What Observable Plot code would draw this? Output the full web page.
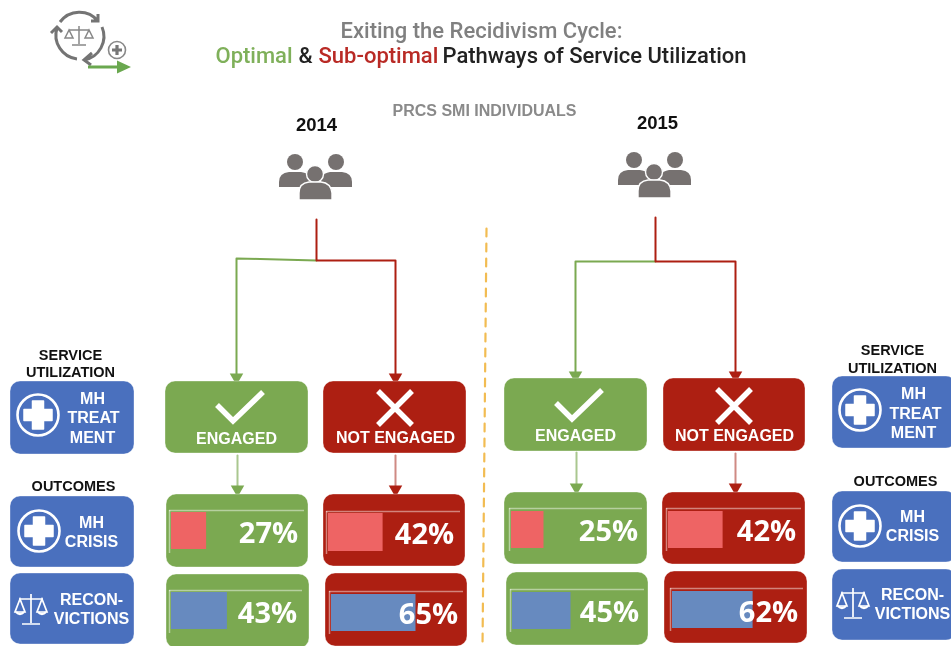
<!DOCTYPE html>
<html>
<head>
<meta charset="utf-8">
<script src="https://cdn.jsdelivr.net/npm/d3@7"></script>
<script src="https://cdn.jsdelivr.net/npm/@observablehq/plot@0.6"></script>
<style>
html,body{margin:0;padding:0;background:#fff}
svg{display:block;filter:blur(.7px)}
</style>
</head>
<body>
<div id="chart"></div>
<script>
// ---- values ----
const years = ["2014", "2015"];
const groups = ["ENGAGED", "NOT ENGAGED"];
const mhCrisis = [27, 42, 25, 42];        // 2014 E, 2014 N, 2015 E, 2015 N
const reconvictions = [43, 65, 45, 62];   // 2014 E, 2014 N, 2015 E, 2015 N

// ---- layout (page pixels) ----
const PX_PER_PERCENT = 1.3;
const px = v => v / PX_PER_PERCENT;       // x scale is in percentage points
const GREEN = "#7ba951", RED = "#ad1f12", BLUE = "#4a70be", GREY = "#808080";
const barRed = "#ee6464", barBlue = "#678abf";

const colFill = [GREEN, RED, GREEN, RED];
const statusBoxes = [
  {x1:165,x2:308,y1:381,y2:453},{x1:323,x2:466,y1:381,y2:453},
  {x1:504,x2:647,y1:378,y2:451},{x1:663,x2:805,y1:378,y2:451}
].map((d,i)=>({...d,fill:colFill[i]}));
const crisisBoxes = [
  {x1:166,x2:308,y1:494,y2:567,base:171,by1:512,by2:549,ax:169,ay:510,ax2:304,tx:268,ty:533},
  {x1:323,x2:465,y1:494,y2:566,base:328,by1:513,by2:551,ax:326,ay:511,ax2:460,tx:424,ty:534},
  {x1:504,x2:647,y1:492,y2:564,base:511,by1:511,by2:548,ax:509,ay:508,ax2:642,tx:608,ty:531},
  {x1:662,x2:805,y1:492,y2:564,base:668,by1:511,by2:548,ax:666,ay:508,ax2:801,tx:766,ty:531}
].map((d,i)=>({...d,fill:colFill[i],value:mhCrisis[i],bar:barRed}));
const reconBoxes = [
  {x1:166,x2:309,y1:574,y2:648,base:171,by1:592,by2:629,ax:169,ay:590,ax2:302,tx:267,ty:613},
  {x1:325,x2:467,y1:573,y2:646,base:331,by1:594,by2:631,ax:329,ay:591,ax2:463,tx:428,ty:614},
  {x1:506,x2:648,y1:572,y2:645,base:512,by1:592,by2:629,ax:510,ay:589,ax2:644,tx:609,ty:612},
  {x1:664,x2:807,y1:571,y2:643,base:672,by1:591,by2:628,ax:670,ay:588,ax2:803,tx:768,ty:612}
].map((d,i)=>({...d,fill:colFill[i],value:reconvictions[i],bar:barBlue}));
const valueBoxes = [...crisisBoxes, ...reconBoxes];

const blueBoxes = [
  {x1:10,x2:134,y1:381,y2:454},{x1:10,x2:134,y1:496,y2:567},{x1:10,x2:134,y1:573,y2:644},
  {x1:832,x2:956,y1:376,y2:448},{x1:832,x2:956,y1:491,y2:562},{x1:832,x2:956,y1:569,y2:640}
];

const sideHeads = [
  ["SERVICE",70,355],["UTILIZATION",70,372],["OUTCOMES",73,486],
  ["SERVICE",892,350],["UTILIZATION",892,368],["OUTCOMES",895,481]
].map(([t,x,y])=>({t,x,y}));
const blueLabels = [
  ["MH",92,398],["TREAT",93,417],["MENT",92,437],["MH",91,522],["CRISIS",91,541],
  ["RECON-",91,599],["VICTIONS",91,618],
  ["MH",913,393],["TREAT",915,413],["MENT",913,432],["MH",912,516],["CRISIS",912,535],
  ["RECON-",912,594],["VICTIONS",912,613]
].map(([t,x,y])=>({t,x,y}));
const statusLabels = [
  {t:groups[0],x:236,y:438},{t:groups[1],x:395,y:437},
  {t:groups[0],x:575,y:435},{t:groups[1],x:734,y:435}
];
const yearLabels = [{t:years[0],x:316,y:125},{t:years[1],x:657,y:123}];
const titleParts = [
  {t:"Optimal",x:215,fill:"#7fb05a"},{t:"&",x:298,fill:"#222"},
  {t:"Sub-optimal",x:318,fill:"#b92a25"},{t:"Pathways of Service Utilization",x:442,fill:"#222"}
];

const pathways = [
  {fill:GREEN,pts:[[316,260],[236,258],[236,376]]},
  {fill:RED,pts:[[316,219],[316,260],[395,260],[395,376]]},
  {fill:GREEN,pts:[[655,261],[575,261],[575,374]]},
  {fill:RED,pts:[[655,217],[655,261],[735,261],[735,374]]}
];
const stubs = [
  {fill:"#aac78f",pts:[[237,455],[237,488]]},{fill:"#cf8a84",pts:[[395,455],[395,488]]},
  {fill:"#aac78f",pts:[[576,452],[576,486]]},{fill:"#cf8a84",pts:[[735,453],[735,486]]}
];
const arrowHeads = [
  {x:236,y:377,fill:GREEN},{x:395,y:377,fill:RED},{x:575,y:375,fill:GREEN},{x:735,y:375,fill:RED},
  {x:237,y:489,fill:GREEN},{x:395,y:489,fill:RED},{x:576,y:487,fill:GREEN},{x:735,y:487,fill:RED}
];
const lineMarks = arr => arr.map(p => Plot.line(p.pts,{x:d=>px(d[0]),y:d=>d[1],stroke:p.fill,strokeWidth:2,curve:"linear"}));

// small decorative glyphs, placed through the plot's scales
const glyphs = {
  people:`<g fill="#767170"><circle cx="-21" cy="-14" r="8"/><circle cx="20" cy="-14" r="8"/>
    <path d="M-37 11v-5q0-9 10-10h12q7 1 10 5v10z"/><path d="M36 11v-5q0-9-10-10h-12q-6 1-9 5v10z"/>
    <g stroke="#fff" stroke-width="1.4"><circle cx="-1" cy="-2" r="8.5"/><path d="M-17 24v-7q0-10 10-11h12q10 1 11 11v7z"/></g></g>`,
  plus:`<circle r="20.5" fill="none" stroke="#fff" stroke-width="2.6"/>
    <path d="M-5.5 -14h11v8.5h8.5v11h-8.5v8.5h-11v-8.5h-8.5v-11h8.5z" fill="#fff" stroke="#fff" stroke-width="1.5" stroke-linejoin="round"/>`,
  scales:`<g fill="none" stroke="#fff" stroke-width="1.7"><path d="M0 -15v29M-9 15h18M-12 -10h24"/>
    <path d="M-11 -10l-5 13h10zM11 -10l-5 13h10z"/><path d="M-15 3q4 4 8 0M7 3q4 4 8 0" stroke-width="2.4"/></g>`,
  check:`<path d="M-19 -2L-3 14L27 -15" fill="none" stroke="#fff" stroke-width="5.5"/>`,
  cross:`<path d="M-17 -17L17 17M17 -17L-17 17" fill="none" stroke="#fff" stroke-width="5.5"/>`,
  cycle:`<g fill="none" stroke="#747474" stroke-width="3">
    <path d="M-19 -15A24 24 0 0 1 19 -16M19 -23v7h-7"/><path d="M23 -10A24 24 0 0 1 5 23M13 16l-8 7l7 5"/><path d="M-2 22A24 24 0 0 1 -22 -9M-28 -4l6 -6l5 5"/>
    <g stroke-width="1.5" stroke="#888"><path d="M0 -11v18M-7 8h14M-10 -7h20M-10 -7l-4 8h8zM10 -7l-4 8h8z"/></g></g>`,
  minor:`<circle r="8.5" fill="none" stroke="#888" stroke-width="1.6"/><path d="M-1.6 -5h3.2v3.4h3.4v3.2h-3.4v3.4h-3.2v-3.4h-3.4v-3.2h3.4z" fill="#777"/>`,
  exit:`<path d="M-21 -1.5h29v-5l14 6.5l-14 6.5v-5h-29z" fill="#6aa84f"/>`
};
const glyphAt = [
  ["people",316,176],["people",655,174],
  ["plus",38,415],["plus",39,531],["plus",860,410],["plus",860,526],
  ["scales",31,609],["scales",853,603],
  ["check",236,407],["check",575,405],
  ["cross",395,408],["cross",734,406],
  ["cycle",79,37],["minor",117,50],["exit",109,67]
];
const glyphMark = (index,{x,y}) => {
  const g = d3.create("svg:g");
  for (const [k,gx,gy] of glyphAt)
    g.append("g").attr("transform",`translate(${x(px(gx))},${y(gy)})`).html(glyphs[k]);
  return g.node();
};

const T = (rows,o) => Plot.text(rows,{text:"t",x:d=>px(d.x),y:"y",...o});
const boxes = (rows,fill) => Plot.rect(rows,{x1:d=>px(d.x1),x2:d=>px(d.x2),y1:"y1",y2:"y2",fill,rx:10,ry:10,stroke:"#fff",strokeOpacity:.35,strokeWidth:1});

const chart = Plot.plot({
  width:951,height:646,margin:0,
  x:{domain:[0,px(951)],range:[0,951],axis:null},
  y:{domain:[0,646],range:[0,646],axis:null},
  marks:[
    // diagram
    ...lineMarks(pathways), ...lineMarks(stubs),
    Plot.dot(arrowHeads,{x:d=>px(d.x),y:"y",fill:"fill",symbol:"triangle",r:5,rotate:180}),
    Plot.line([[486,228],[482,646]],{x:d=>px(d[0]),y:d=>d[1],stroke:"#f2bc52",strokeWidth:2.2,strokeDasharray:"8,7"}),
    boxes(blueBoxes,BLUE),
    boxes(statusBoxes,"fill"),
    boxes(valueBoxes,"fill"),
    // axis frame in each panel
    Plot.ruleY(valueBoxes,{x1:d=>px(d.ax),x2:d=>px(d.ax2),y:"ay",stroke:"#fff",strokeOpacity:.45,strokeWidth:1.5}),
    Plot.ruleX(valueBoxes,{x:d=>px(d.ax),y1:"ay",y2:d=>d.ay+43,stroke:"#fff",strokeOpacity:.45,strokeWidth:1.5}),
    // bars: length is the value itself, on the x scale
    Plot.rect(valueBoxes,{x1:d=>px(d.base),x2:d=>px(d.base)+d.value,y1:"by1",y2:"by2",fill:"bar"}),
    glyphMark,
    // percentage labels
    Plot.text(valueBoxes,{text:d=>d.value+"%",x:d=>px(d.tx),y:"ty",fill:"#fff",fontFamily:"'Open Sans'",fontWeight:700,fontSize:29}),
    T(statusLabels,{fill:"#fff",fontFamily:"'Liberation Sans'",fontWeight:700,fontSize:16}),
    T(blueLabels,{fill:"#fff",fontFamily:"'Liberation Sans'",fontWeight:700,fontSize:16}),
    T(sideHeads,{fill:"#111",fontFamily:"'Liberation Sans'",fontWeight:700,fontSize:14.5}),
    T(yearLabels,{fill:"#111",fontFamily:"'Liberation Sans'",fontWeight:700,fontSize:18.5}),
    Plot.text(["PRCS SMI INDIVIDUALS"],{x:[px(484)],y:[110],fill:"#8a8a8a",fontFamily:"'Liberation Sans'",fontWeight:700,fontSize:16}),
    // title
    Plot.text(["Exiting the Recidivism Cycle:"],{x:[px(481)],y:[30],fill:GREY,fontFamily:"Roboto",fontWeight:500,fontSize:22}),
    Plot.text(titleParts,{text:"t",x:d=>px(d.x),y:()=>55,fill:"fill",textAnchor:"start",fontFamily:"Roboto",fontWeight:500,fontSize:22})
  ]
});
document.getElementById("chart").appendChild(chart);
</script>
</body>
</html>
